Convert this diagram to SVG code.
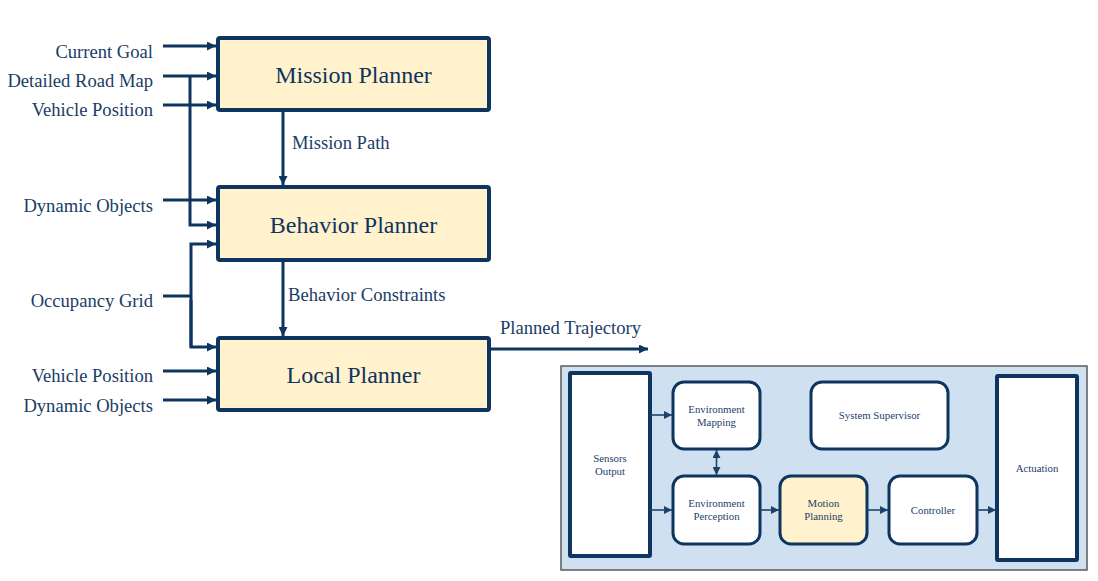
<svg xmlns="http://www.w3.org/2000/svg" width="1098" height="581" viewBox="0 0 1098 581" font-family="Liberation Serif">
<defs>
<marker id="ah" viewBox="0 0 10 10" refX="10" refY="5" markerWidth="9" markerHeight="9" markerUnits="userSpaceOnUse" orient="auto"><path d="M0,0 L10,5 L0,10 z" fill="#0e3460"/></marker>
<marker id="as" viewBox="0 0 10 10" refX="10" refY="5" markerWidth="8" markerHeight="8" markerUnits="userSpaceOnUse" orient="auto-start-reverse"><path d="M0,0 L10,5 L0,10 z" fill="#1d416b"/></marker>
<style>
.big{fill:#fff2cc;stroke:#0e3460;stroke-width:4}
.bt{font-size:24px;fill:#0e3460;text-anchor:middle}
.lb{font-size:18.6px;fill:#1a3d66}
.r{text-anchor:end}
.w{fill:none;stroke:#0e3460;stroke-width:3}
.s{fill:none;stroke:#1d416b;stroke-width:1.6}
.sb{fill:#fff;stroke:#0e3460;stroke-width:3}
.st{font-size:10.8px;fill:#1d416b;text-anchor:middle}
</style>
</defs>
<g id="panel"><rect x="561" y="366" width="526" height="204" fill="#cfe0f1" stroke="#595959" stroke-width="1.5"/></g>
<g id="mission" font-family="Liberation Serif"><rect class="big" x="218" y="38" width="271" height="72" rx="2"/><text class="bt" x="353.5" y="83" font-family="Liberation Serif">Mission Planner</text></g>
<g id="behavior" font-family="Liberation Serif"><rect class="big" x="218" y="187" width="271" height="73" rx="2"/><text class="bt" x="353.5" y="233" font-family="Liberation Serif">Behavior Planner</text></g>
<g id="local" font-family="Liberation Serif"><rect class="big" x="218" y="338" width="271" height="72" rx="2"/><text class="bt" x="353.5" y="383" font-family="Liberation Serif">Local Planner</text></g>
<g id="labels" font-family="Liberation Serif">
<text class="lb r" x="153" y="58" font-family="Liberation Serif">Current Goal</text>
<text class="lb r" x="153" y="87" font-family="Liberation Serif">Detailed Road Map</text>
<text class="lb r" x="153" y="116" font-family="Liberation Serif">Vehicle Position</text>
<text class="lb r" x="153" y="212" font-family="Liberation Serif">Dynamic Objects</text>
<text class="lb r" x="153" y="307" font-family="Liberation Serif">Occupancy Grid</text>
<text class="lb r" x="153" y="382" font-family="Liberation Serif">Vehicle Position</text>
<text class="lb r" x="153" y="412" font-family="Liberation Serif">Dynamic Objects</text>
<text class="lb" x="292" y="149" font-family="Liberation Serif">Mission Path</text>
<text class="lb" x="288" y="301" font-family="Liberation Serif">Behavior Constraints</text>
<text class="lb" x="500" y="334" font-family="Liberation Serif">Planned Trajectory</text>
</g>
<g id="sensors" font-family="Liberation Serif"><rect x="570" y="373" width="80" height="183" rx="1" fill="#fff" stroke="#0e3460" stroke-width="4"/><text class="st" x="610" y="462" font-family="Liberation Serif">Sensors</text><text class="st" x="610" y="475" font-family="Liberation Serif">Output</text></g>
<g id="envmap" font-family="Liberation Serif"><rect class="sb" x="673" y="382" width="87" height="67" rx="11"/><text class="st" x="716.5" y="413" font-family="Liberation Serif">Environment</text><text class="st" x="716.5" y="426" font-family="Liberation Serif">Mapping</text></g>
<g id="supervisor" font-family="Liberation Serif"><rect class="sb" x="811" y="382" width="137" height="67" rx="11"/><text class="st" x="879.5" y="419" font-family="Liberation Serif">System Supervisor</text></g>
<g id="envperc" font-family="Liberation Serif"><rect class="sb" x="673" y="476" width="87" height="68" rx="11"/><text class="st" x="716.5" y="507" font-family="Liberation Serif">Environment</text><text class="st" x="716.5" y="520" font-family="Liberation Serif">Perception</text></g>
<g id="motion" font-family="Liberation Serif"><rect x="780" y="476" width="87" height="68" rx="11" fill="#fff2cc" stroke="#0e3460" stroke-width="3"/><text class="st" x="823.5" y="507" font-family="Liberation Serif">Motion</text><text class="st" x="823.5" y="520" font-family="Liberation Serif">Planning</text></g>
<g id="controller" font-family="Liberation Serif"><rect class="sb" x="889" y="476" width="88" height="68" rx="11"/><text class="st" x="933" y="514" font-family="Liberation Serif">Controller</text></g>
<g id="actuation" font-family="Liberation Serif"><rect x="997" y="376" width="80" height="184" rx="1" fill="#fff" stroke="#0e3460" stroke-width="4"/><text class="st" x="1037" y="472" font-family="Liberation Serif">Actuation</text></g>
<g id="connectors">
<path class="w" d="M163,46 H216" marker-end="url(#ah)"/>
<path class="w" d="M163,76 H216" marker-end="url(#ah)"/>
<path class="w" d="M163,105 H216" marker-end="url(#ah)"/>
<path class="w" d="M163,200 H216" marker-end="url(#ah)"/>
<path class="w" d="M190,76 V225 H216" marker-end="url(#ah)"/>
<path class="w" d="M163,296 H191"/>
<path class="w" d="M191,347 V244 H216" marker-end="url(#ah)"/>
<path class="w" d="M191,300 V347 H216" marker-end="url(#ah)"/>
<path class="w" d="M163,371 H216" marker-end="url(#ah)"/>
<path class="w" d="M163,400 H216" marker-end="url(#ah)"/>
<path class="w" d="M283,110 V185" marker-end="url(#ah)"/>
<path class="w" d="M283,260 V336" marker-end="url(#ah)"/>
<path class="w" d="M489,349 H648" marker-end="url(#ah)"/>
<path class="s" d="M650,415 H672" marker-end="url(#as)"/>
<path class="s" d="M650,510 H672" marker-end="url(#as)"/>
<path class="s" d="M716.5,450 V475" marker-start="url(#as)" marker-end="url(#as)"/>
<path class="s" d="M760,510 H779" marker-end="url(#as)"/>
<path class="s" d="M867,510 H888" marker-end="url(#as)"/>
<path class="s" d="M977,510 H996" marker-end="url(#as)"/>
</g>
</svg>
